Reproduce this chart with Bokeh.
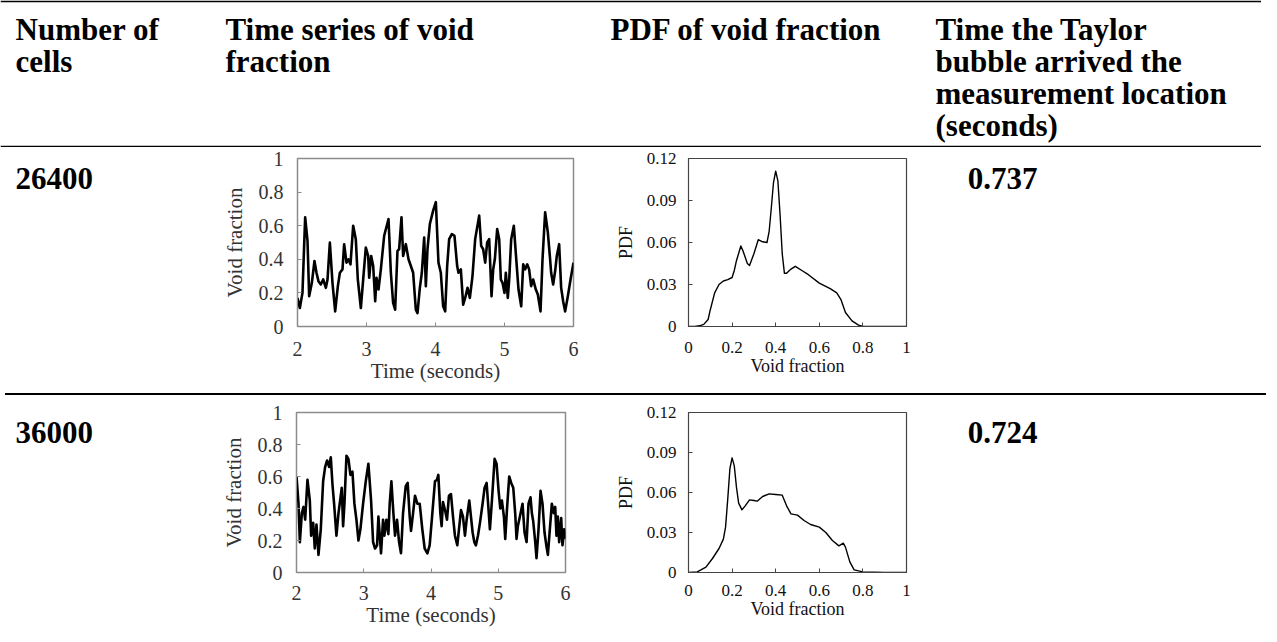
from bokeh.plotting import figure
from bokeh.layouts import column, row
from bokeh.models import Range1d, FixedTicker, ColumnDataSource, Div
from bokeh.embed import file_html
from bokeh.resources import INLINE
from bokeh.core.properties import value

SERIF = "Liberation Serif"

# ---------------- data ----------------
header_lines = [
    ["Number of", "cells"],
    ["Time series of void", "fraction"],
    ["PDF of void fraction"],
    ["Time the Taylor", "bubble arrived the", "measurement location", "(seconds)"],
]
cell_counts = ["26400", "36000"]
arrival_times = ["0.737", "0.724"]

ts_xticks = [2, 3, 4, 5, 6]
ts_xlabels = ["2", "3", "4", "5", "6"]
ts_yticks = [0, 0.2, 0.4, 0.6, 0.8, 1]
ts_ylabels = ["0", "0.2", "0.4", "0.6", "0.8", "1"]
pdf_xticks = [0, 0.2, 0.4, 0.6, 0.8, 1]
pdf_xlabels = ["0", "0.2", "0.4", "0.6", "0.8", "1"]
pdf_yticks = [0, 0.03, 0.06, 0.09, 0.12]
pdf_ylabels = ["0", "0.03", "0.06", "0.09", "0.12"]

ts1_t = [2.000, 2.034, 2.072, 2.111, 2.145, 2.169, 2.208, 2.246, 2.275, 2.304,
         2.338, 2.372, 2.411, 2.435, 2.469, 2.507, 2.546, 2.585, 2.614, 2.652,
         2.676, 2.710, 2.739, 2.768, 2.807, 2.845, 2.874, 2.918, 2.952, 2.990,
         3.024, 3.039, 3.068, 3.097, 3.126, 3.145, 3.174, 3.208, 3.256, 3.319,
         3.353, 3.386, 3.415, 3.449, 3.473, 3.507, 3.531, 3.570, 3.609, 3.643,
         3.676, 3.715, 3.739, 3.773, 3.802, 3.836, 3.860, 3.884, 3.918, 3.966,
         4.005, 4.043, 4.077, 4.111, 4.140, 4.169, 4.198, 4.237, 4.275, 4.314,
         4.333, 4.367, 4.401, 4.430, 4.464, 4.498, 4.536, 4.575, 4.633, 4.662,
         4.691, 4.720, 4.749, 4.778, 4.812, 4.836, 4.860, 4.894, 4.923, 4.947,
         4.971, 5.000, 5.019, 5.048, 5.068, 5.097, 5.135, 5.174, 5.203, 5.242,
         5.271, 5.300, 5.329, 5.357, 5.386, 5.415, 5.454, 5.483, 5.522, 5.551,
         5.589, 5.628, 5.657, 5.676, 5.705, 5.734, 5.758, 5.792, 5.821, 5.850,
         5.879, 5.918, 5.957, 6.000]
ts1_v = [0.17, 0.11, 0.20, 0.65, 0.51, 0.18, 0.26, 0.39, 0.32, 0.27,
         0.25, 0.28, 0.23, 0.28, 0.50, 0.26, 0.09, 0.24, 0.32, 0.34,
         0.49, 0.38, 0.40, 0.37, 0.60, 0.52, 0.28, 0.11, 0.28, 0.47,
         0.42, 0.29, 0.42, 0.36, 0.15, 0.29, 0.22, 0.34, 0.54, 0.64,
         0.32, 0.14, 0.10, 0.45, 0.46, 0.65, 0.42, 0.49, 0.40, 0.36,
         0.32, 0.10, 0.08, 0.23, 0.32, 0.53, 0.24, 0.46, 0.61, 0.69,
         0.74, 0.38, 0.32, 0.12, 0.09, 0.36, 0.52, 0.55, 0.54, 0.36,
         0.32, 0.34, 0.13, 0.17, 0.23, 0.17, 0.30, 0.52, 0.66, 0.48,
         0.46, 0.38, 0.50, 0.52, 0.18, 0.34, 0.40, 0.58, 0.52, 0.28,
         0.26, 0.20, 0.32, 0.17, 0.28, 0.52, 0.60, 0.38, 0.22, 0.12,
         0.37, 0.34, 0.37, 0.34, 0.24, 0.28, 0.22, 0.19, 0.09, 0.40,
         0.68, 0.56, 0.42, 0.32, 0.25, 0.33, 0.42, 0.49, 0.23, 0.15,
         0.09, 0.18, 0.28, 0.38]

ts2_t = [2.000, 2.030, 2.050, 2.079, 2.104, 2.129, 2.163, 2.198, 2.218, 2.248,
         2.272, 2.297, 2.327, 2.361, 2.396, 2.426, 2.455, 2.485, 2.510, 2.535,
         2.559, 2.594, 2.624, 2.649, 2.673, 2.693, 2.713, 2.743, 2.772, 2.802,
         2.832, 2.861, 2.891, 2.921, 2.950, 2.990, 3.030, 3.069, 3.109, 3.139,
         3.168, 3.198, 3.218, 3.238, 3.257, 3.287, 3.307, 3.337, 3.366, 3.386,
         3.411, 3.441, 3.465, 3.495, 3.525, 3.554, 3.584, 3.624, 3.653, 3.683,
         3.703, 3.733, 3.762, 3.797, 3.832, 3.871, 3.906, 3.946, 3.980, 4.020,
         4.059, 4.089, 4.109, 4.139, 4.158, 4.178, 4.208, 4.238, 4.267, 4.297,
         4.327, 4.356, 4.391, 4.416, 4.446, 4.475, 4.505, 4.530,
         4.569, 4.619, 4.644, 4.668, 4.698, 4.728, 4.767, 4.797, 4.827, 4.856,
         4.876, 4.906, 4.946, 4.975, 5.005, 5.030, 5.054, 5.084, 5.104, 5.129,
         5.163, 5.193, 5.223, 5.252, 5.272, 5.292, 5.322, 5.361, 5.391, 5.421,
         5.450, 5.480, 5.500, 5.520, 5.550, 5.569, 5.599, 5.629, 5.658, 5.688,
         5.718, 5.738, 5.767, 5.797, 5.827, 5.847, 5.866, 5.886, 5.906, 5.936,
         5.955, 5.980, 6.000]
ts2_v = [0.60, 0.43, 0.19, 0.37, 0.41, 0.33, 0.58, 0.45, 0.23, 0.31,
         0.15, 0.30, 0.11, 0.27, 0.57, 0.66, 0.70, 0.66, 0.72, 0.55,
         0.43, 0.23, 0.37, 0.45, 0.53, 0.29, 0.43, 0.73, 0.71, 0.61,
         0.63, 0.43, 0.33, 0.20, 0.27, 0.43, 0.57, 0.68, 0.45, 0.19,
         0.15, 0.17, 0.35, 0.23, 0.12, 0.33, 0.23, 0.33, 0.24, 0.43,
         0.57, 0.37, 0.23, 0.33, 0.19, 0.12, 0.37, 0.54, 0.56, 0.35,
         0.26, 0.37, 0.48, 0.43, 0.43, 0.27, 0.15, 0.12, 0.17, 0.37,
         0.57, 0.58, 0.61, 0.37, 0.29, 0.44, 0.39, 0.33, 0.48, 0.49,
         0.35, 0.23, 0.17, 0.27, 0.39, 0.35, 0.23, 0.33,
         0.45, 0.25, 0.19, 0.17, 0.23, 0.31, 0.43, 0.53, 0.56, 0.39,
         0.27, 0.45, 0.71, 0.68, 0.51, 0.40, 0.45, 0.35, 0.21, 0.39,
         0.60, 0.56, 0.53, 0.37, 0.21, 0.29, 0.35, 0.43, 0.25, 0.19,
         0.43, 0.47, 0.37, 0.32, 0.19, 0.09, 0.27, 0.51, 0.43, 0.25,
         0.16, 0.11, 0.27, 0.43, 0.37, 0.41, 0.23, 0.35, 0.19, 0.34,
         0.17, 0.27, 0.21]

pdf1_x = [0.00, 0.03, 0.05, 0.07, 0.09, 0.10, 0.12, 0.14, 0.16, 0.18, 0.20, 0.21,
          0.22, 0.24, 0.25, 0.27, 0.28, 0.30, 0.32, 0.34, 0.36, 0.37, 0.38, 0.39,
          0.40, 0.41, 0.42, 0.43, 0.44, 0.45, 0.47, 0.49, 0.52, 0.55, 0.60, 0.65,
          0.68, 0.70, 0.72, 0.75, 0.78, 0.80, 0.90, 1.00]
pdf1_y = [0.0, 0.0, 0.0005, 0.0015, 0.005, 0.012, 0.024, 0.030, 0.0325, 0.0335, 0.035, 0.040,
          0.047, 0.0575, 0.054, 0.045, 0.0435, 0.052, 0.062, 0.0605, 0.060, 0.068, 0.085, 0.103,
          0.111, 0.104, 0.080, 0.052, 0.038, 0.038, 0.041, 0.043, 0.040, 0.037, 0.031, 0.027,
          0.024, 0.019, 0.010, 0.004, 0.001, 0.0, 0.0, 0.0]

pdf2_x = [0.00, 0.04, 0.08, 0.11, 0.14, 0.16, 0.17, 0.18, 0.19, 0.20, 0.21, 0.22,
          0.23, 0.245, 0.26, 0.28, 0.30, 0.315, 0.34, 0.37, 0.40, 0.43, 0.45, 0.47,
          0.50, 0.53, 0.56, 0.60, 0.63, 0.66, 0.69, 0.71, 0.72, 0.74, 0.76, 0.80,
          0.90, 1.00]
pdf2_y = [0.0, 0.0004, 0.004, 0.0105, 0.018, 0.025, 0.034, 0.055, 0.078, 0.086, 0.080, 0.064,
          0.052, 0.047, 0.050, 0.0545, 0.054, 0.0535, 0.057, 0.059, 0.0585, 0.058, 0.050, 0.044,
          0.043, 0.039, 0.036, 0.034, 0.030, 0.024, 0.020, 0.022, 0.019, 0.008, 0.002, 0.0005,
          0.0, 0.0]

# ---------------- layout helpers ----------------
W = 1261
BIG = "31px"


def blank(w, h, top=0, bottom=0, border="white", bg="white"):
    p = figure(width=w, height=h, output_backend="svg", toolbar_location=None,
               x_range=Range1d(0, w), y_range=Range1d(h - bottom, top),
               x_axis_location=None, y_axis_location=None,
               min_border_left=0, min_border_right=0,
               min_border_top=top, min_border_bottom=bottom,
               outline_line_color=None, background_fill_color=bg,
               border_fill_color=border)
    p.grid.visible = False
    return p


def style_axes(p, fs, lfs, color, xticks, xlabels, yticks, ylabels, xs, xls, ys, yls, line_color):
    for ax, ticks, labels, so, lso in ((p.xaxis[0], xticks, xlabels, xs, xls),
                                       (p.yaxis[0], yticks, ylabels, ys, yls)):
        ax.ticker = FixedTicker(ticks=ticks)
        ax.major_label_overrides = dict(zip(ticks, labels))
        ax.major_label_text_font = SERIF
        ax.major_label_text_font_size = fs
        ax.major_label_text_color = color
        ax.major_label_standoff = so
        ax.axis_label_text_font = SERIF
        ax.axis_label_text_font_style = "normal"
        ax.axis_label_text_font_size = lfs
        ax.axis_label_text_color = color
        ax.axis_label_standoff = lso
        ax.axis_line_color = line_color
        ax.major_tick_line_color = line_color
        ax.major_tick_in = 4
        ax.major_tick_out = 0
        ax.minor_tick_line_color = None


def ts_fig(w, h, l, r, t, b, tt, vv, xs):
    p = figure(width=w, height=h, output_backend="svg", toolbar_location=None,
               x_range=Range1d(2, 6), y_range=Range1d(0, 1),
               min_border_left=l, min_border_right=r, min_border_top=t, min_border_bottom=b,
               outline_line_color="#8c8c8c", outline_line_width=1.5,
               x_axis_label="Time (seconds)", y_axis_label="Void fraction")
    p.grid.visible = False
    p.line(tt, vv, line_color="black", line_width=2.6, line_join="round")
    style_axes(p, "20px", "21px", "#333333", ts_xticks, ts_xlabels, ts_yticks, ts_ylabels,
               xs, 0, 14, 9, "#8c8c8c")
    return p


def pdf_fig(w, h, l, r, t, b, xx, yy, xs):
    p = figure(width=w, height=h, output_backend="svg", toolbar_location=None,
               x_range=Range1d(0, 1), y_range=Range1d(0, 0.12),
               min_border_left=l, min_border_right=r, min_border_top=t, min_border_bottom=b,
               outline_line_color="#444444", outline_line_width=1.2,
               x_axis_label="Void fraction", y_axis_label="PDF")
    p.grid.visible = False
    p.line(xx, yy, line_color="black", line_width=1.4, line_join="round")
    style_axes(p, "17px", "18px", "#111111", pdf_xticks, pdf_xlabels, pdf_yticks, pdf_ylabels,
               xs, 0, 12, 8, "#444444")
    return p


def text_cell(w, h, txt, x, y, align):
    p = blank(w, h)
    src = ColumnDataSource(dict(x=[x], y=[y], text=[txt]))
    p.text(x="x", y="y", text="text", source=src, text_font=value(SERIF),
           text_font_style="bold", text_font_size=BIG, text_align=align,
           text_baseline="alphabetic", text_color="black")
    return p


# ---------------- header ----------------
HDR_H = 147
hdr = blank(W, HDR_H, top=2, bottom=2, border="black", bg="white")
col_x = [15, 225, 610, 935]
hx, hy, ht = [], [], []
for j, lines in enumerate(header_lines):
    for i, s in enumerate(lines):
        hx.append(col_x[j])
        hy.append(29 + 32 * i)
        ht.append(s)
hdr.text(x="x", y="y", text="text", source=ColumnDataSource(dict(x=hx, y=hy, text=ht)),
         text_font=value(SERIF), text_font_style="bold", text_font_size=BIG,
         text_align="left", text_baseline="alphabetic", text_color="black")

# ---------------- rows ----------------
R1_H, R2_H = 241, 236
A_W, TS_W, PDF_W = 212, 400, 300
D_W = W - A_W - TS_W - PDF_W

a1 = text_cell(A_W, R1_H, cell_counts[0], 15, 29, "left")
t1 = ts_fig(TS_W, R1_H, 85, 39, 11, 62, ts1_t, ts1_v, 15)
p1 = pdf_fig(PDF_W, R1_H, 59, 6, 10, 53, pdf1_x, pdf1_y, 15)
d1 = text_cell(D_W, R1_H, arrival_times[0], 90, 29, "center")

mid = Div(text="", width=W, height=2, styles={"background-color": "black"})

a2 = text_cell(A_W, R2_H, cell_counts[1], 15, 29, "left")
t2 = ts_fig(TS_W, R2_H, 84, 47, 12, 64, ts2_t, ts2_v, 13)
p2 = pdf_fig(PDF_W, R2_H, 58, 6, 9, 54, pdf2_x, pdf2_y, 12)
d2 = text_cell(D_W, R2_H, arrival_times[1], 90, 29, "center")

layout = column(hdr, row(a1, t1, p1, d1), mid, row(a2, t2, p2, d2))

open("out.html", "w").write(file_html(layout, INLINE))
